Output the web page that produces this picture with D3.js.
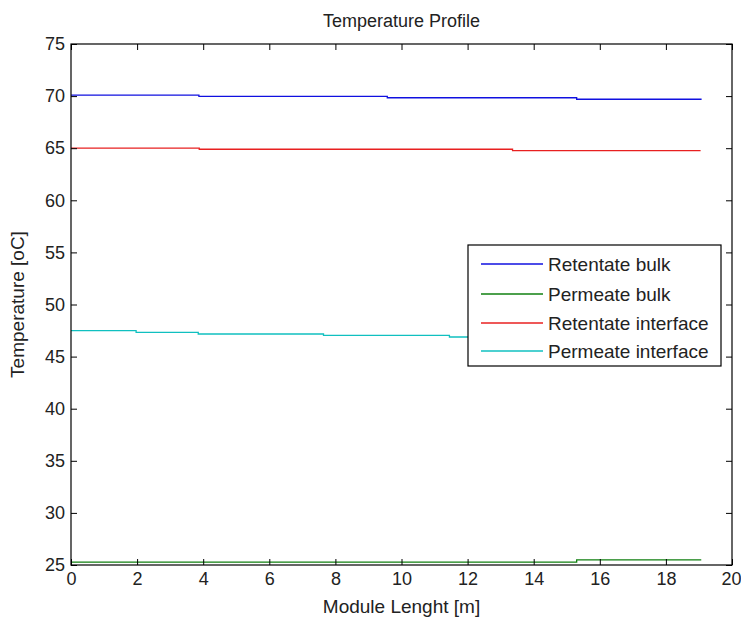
<!DOCTYPE html>
<html><head><meta charset="utf-8">
<script src="https://cdn.jsdelivr.net/npm/d3@7"></script>
<style>body{margin:0;background:#fff}svg{display:block}text{font-family:"Liberation Sans",Arial,sans-serif}</style>
</head><body>
<svg id="c" width="741" height="619"></svg>
<script>
const xTicks = [0,2,4,6,8,10,12,14,16,18,20];
const yTicks = [25,30,35,40,45,50,55,60,65,70,75];
const seriesNames = ["Retentate bulk","Permeate bulk","Retentate interface","Permeate interface"];
const colors = ["#1010e0","#108010","#e82020","#10c0c0"];
// step-function breakpoints (x) and values (y)
const retBulkX = [0, 3.87, 9.57, 15.3, 19.08];
const retBulkY = [70.1, 69.98, 69.84, 69.7, 69.7];
const perBulkX = [0, 15.3, 19.07];
const perBulkY = [25.28, 25.5, 25.5];
const retIntX = [0, 3.88, 13.36, 19.05];
const retIntY = [65.0, 64.9, 64.76, 64.76];
const perIntX = [0, 1.97, 3.85, 7.64, 11.45, 15.3, 19.08];
const perIntY = [47.49, 47.33, 47.17, 47.04, 46.88, 46.72, 46.72];

const series = [[retBulkX,retBulkY],[perBulkX,perBulkY],[retIntX,retIntY],[perIntX,perIntY]]
  .map(([xs,ys],i)=>({name:seriesNames[i],color:colors[i],pts:xs.map((x,j)=>[x,ys[j]])}));

const L=71,R=732,T=44,B=565;
const svg=d3.select("#c");
const x=d3.scaleLinear().domain([0,20]).range([L,R]);
const y=d3.scaleLinear().domain([25,75]).range([B,T]);
const fsTick=18, fsLab=19, fsTitle=18, fsLeg=19;

const line=d3.line().x(d=>x(d[0])).y(d=>y(d[1])).curve(d3.curveStepAfter);
const g=svg.append("g");
series.forEach(s=>{
  g.append("path").attr("d",line(s.pts)).attr("fill","none").attr("stroke",s.color).attr("stroke-width",1.3);
});

// axes with inner ticks
const tl=6;
const ax=[
  svg.append("g").attr("transform",`translate(0,${B})`).call(d3.axisBottom(x).tickValues(xTicks).tickSizeInner(-tl).tickSizeOuter(0).tickPadding(7)),
  svg.append("g").attr("transform",`translate(0,${T})`).call(d3.axisTop(x).tickValues(xTicks).tickSizeInner(-tl).tickSizeOuter(0).tickFormat("")),
  svg.append("g").attr("transform",`translate(${L},0)`).call(d3.axisLeft(y).tickValues(yTicks).tickSizeInner(-tl).tickSizeOuter(0).tickPadding(6)),
  svg.append("g").attr("transform",`translate(${R},0)`).call(d3.axisRight(y).tickValues(yTicks).tickSizeInner(-tl).tickSizeOuter(0).tickFormat(""))
];
ax.forEach(a=>{
  a.select(".domain").remove();
  a.selectAll("line").attr("stroke","#000");
  a.selectAll("text").attr("font-size",fsTick).attr("fill","#222").attr("font-family","Liberation Sans, Arial, sans-serif");
});
// keep the last x tick label inside the window
ax[0].selectAll(".tick text").filter(d=>d===20).attr("text-anchor","end").attr("dx","9");
svg.append("rect").attr("x",L).attr("y",T).attr("width",R-L).attr("height",B-T).attr("fill","none").attr("stroke","#000").attr("stroke-width",1.2);

svg.append("text").attr("x",(L+R)/2).attr("y",27).attr("text-anchor","middle").attr("font-size",fsTitle).attr("fill","#222").text("Temperature Profile");
svg.append("text").attr("x",(L+R)/2).attr("y",613).attr("text-anchor","middle").attr("font-size",fsLab).attr("fill","#222").text("Module Lenght [m]");
svg.append("text").attr("transform",`translate(24,${(T+B)/2}) rotate(-90)`).attr("text-anchor","middle").attr("font-size",fsLab).attr("fill","#222").text("Temperature [oC]");

// legend
const lg=svg.append("g");
lg.append("rect").attr("x",468).attr("y",245).attr("width",253).attr("height",121).attr("fill","#fff").attr("stroke","#000").attr("stroke-width",1.2);
const rowY=[264,294,323,351];
series.forEach((s,i)=>{
  lg.append("line").attr("x1",481).attr("x2",543).attr("y1",rowY[i]).attr("y2",rowY[i]).attr("stroke",s.color).attr("stroke-width",1.3);
  lg.append("text").attr("x",548).attr("y",rowY[i]).attr("dy","0.35em").attr("font-size",fsLeg).attr("fill","#222").text(s.name);
});
</script>
</body></html>
